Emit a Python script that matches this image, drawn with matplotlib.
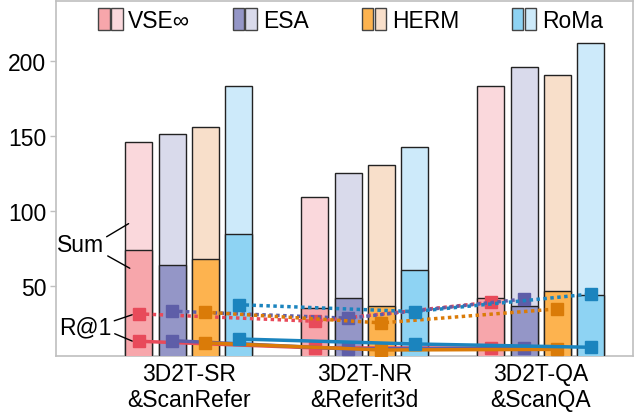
import numpy as np
import matplotlib
matplotlib.use("Agg")
import matplotlib.pyplot as plt
from matplotlib.patches import Rectangle

plt.rcParams["font.family"] = ["Liberation Sans", "DejaVu Sans"]

# data
groups = ["3D2T-SR\n&ScanRefer", "3D2T-NR\n&Referit3d", "3D2T-QA\n&ScanQA"]
methods = ["VSE\u221e", "ESA", "HERM", "RoMa"]

sum_light = {
    "VSE\u221e": [145.8, 109.7, 183.1],
    "ESA": [151.4, 125.6, 196.1],
    "HERM": [156.2, 131.0, 190.6],
    "RoMa": [183.1, 142.7, 211.6],
}
sum_dark = {
    "VSE\u221e": [74.5, 35.7, 42.2],
    "ESA": [64.3, 42.2, 36.9],
    "HERM": [68.5, 36.9, 47.0],
    "RoMa": [84.7, 61.2, 44.2],
}
r1_dotted = {
    "VSE\u221e": [31.8, 26.9, 39.5],
    "ESA": [33.6, 28.9, 41.7],
    "HERM": [32.9, 25.8, 35.1],
    "RoMa": [37.9, 33.3, 45.0],
}
r1_solid = {
    "VSE\u221e": [13.6, 9.2, 9.0],
    "ESA": [14.0, 8.5, 9.0],
    "HERM": [12.5, 7.8, 8.2],
    "RoMa": [15.1, 11.8, 9.6],
}

# colours
DARK = {"VSE\u221e": "#F7A6AB", "ESA": "#9496C7", "HERM": "#FDB34F", "RoMa": "#8ED3F3"}
LIGHT = {"VSE\u221e": "#FAD8DC", "ESA": "#D9DAEB", "HERM": "#F8DFCA", "RoMa": "#CDEAFA"}
LINE = {"VSE\u221e": "#E84A5A", "ESA": "#5E5EA8", "HERM": "#DA7B08", "RoMa": "#1B84BE"}

FS = 16.5
STEP = 0.189
WIDTH = 0.153

# legend layout (axes fraction)
LEG_X = [0.073, 0.306, 0.530, 0.790]
LEG_Y = 0.919
LEG_W = 0.020
LEG_GAP = 0.0023
LEG_H = 0.060


def main():
    fig = plt.figure(figsize=(6.37, 4.14), dpi=100)
    ax = fig.add_axes([56 / 637, 57 / 414, 577 / 637, 355 / 414])

    x = np.arange(len(groups))

    for j, m in enumerate(methods):
        xs = x + (j - 1.5) * STEP
        ax.bar(xs, sum_light[m], width=WIDTH, color=LIGHT[m],
               edgecolor="#222222", linewidth=1.0, zorder=2)
        ax.bar(xs, sum_dark[m], width=WIDTH, color=DARK[m],
               edgecolor="#222222", linewidth=1.0, zorder=3)

    for j, m in enumerate(methods):
        xs = x + (j - 1.5) * STEP
        ax.plot(xs, r1_dotted[m], linestyle=(0, (1, 1)), linewidth=2.5,
                color=LINE[m], marker="s", markersize=8, zorder=5)
        ax.plot(xs, r1_solid[m], linestyle="-", linewidth=2.5,
                color=LINE[m], marker="s", markersize=8, zorder=6)

    # annotations
    ax.text(-0.6125, 77.6, "Sum", fontsize=FS, ha="center", va="center")
    ax.annotate("", xy=(-0.328, 92.7), xytext=(-0.480, 82.1),
                arrowprops=dict(arrowstyle="-", color="black", lw=1.0))
    ax.annotate("", xy=(-0.321, 61.2), xytext=(-0.474, 71.2),
                arrowprops=dict(arrowstyle="-", color="black", lw=1.0))
    ax.text(-0.587, 22.9, "R@1", fontsize=FS, ha="center", va="center")
    ax.annotate("", xy=(-0.306, 31.8), xytext=(-0.438, 26.6),
                arrowprops=dict(arrowstyle="-", color="black", lw=1.0))
    ax.annotate("", xy=(-0.306, 13.0), xytext=(-0.435, 19.3),
                arrowprops=dict(arrowstyle="-", color="black", lw=1.0))

    ax.set_xlim(-0.754, 2.524)
    ax.set_ylim(3.8, 239.7)
    ax.set_yticks([50, 100, 150, 200])
    ax.set_xticks(x)
    ax.set_xticklabels(groups, fontsize=FS)
    ax.tick_params(axis="x", length=0, pad=4)
    ax.tick_params(axis="y", labelsize=FS, length=4, width=1.0,
                   color="#BFBFBF", pad=3)
    for sp in ax.spines.values():
        sp.set_color("#BFBFBF")
        sp.set_linewidth(1.2)

    # legend: two swatches (R@1-part / sum) + name
    for lx, m in zip(LEG_X, methods):
        ax.add_patch(Rectangle((lx, LEG_Y), LEG_W, LEG_H, transform=ax.transAxes,
                               facecolor=DARK[m], edgecolor="#444444",
                               linewidth=1.0, clip_on=False, zorder=10))
        ax.add_patch(Rectangle((lx + LEG_W + LEG_GAP, LEG_Y), LEG_W, LEG_H,
                               transform=ax.transAxes, facecolor=LIGHT[m],
                               edgecolor="#444444", linewidth=1.0,
                               clip_on=False, zorder=10))
        ax.text(lx + 2 * LEG_W + LEG_GAP + 0.010, 0.926, m,
                transform=ax.transAxes, fontsize=FS, ha="left", va="baseline")

    fig.savefig("out.png", dpi=100)
    plt.close(fig)


if __name__ == "__main__":
    main()
